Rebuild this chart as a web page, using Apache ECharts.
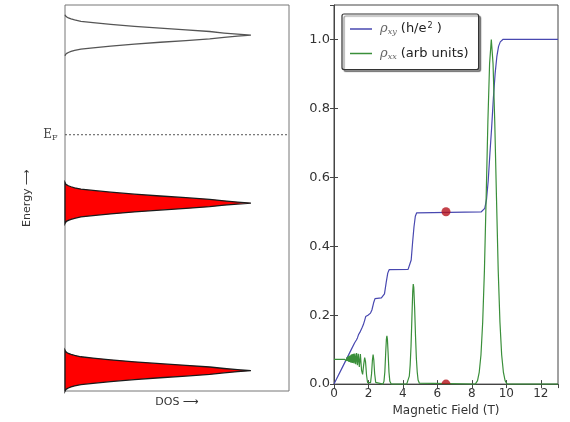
<!DOCTYPE html>
<html>
<head>
<meta charset="utf-8">
<script src="https://cdn.jsdelivr.net/npm/echarts@6/dist/echarts.min.js"></script>
<style>html,body{margin:0;padding:0;background:#fff;}#c{width:570px;height:422px;}</style>
</head>
<body>
<div id="c"></div>
<script>
// ---- Left panel: density of states (Landau levels) ----
const peakCentres = [0.121, 1.12, 2.12];          // energy of each Landau level
const peakFilled  = [1, 1, 0];                    // 1 = filled (below E_F)
const profileDE   = [0, 0.006, 0.013, 0.022, 0.032, 0.042, 0.053, 0.065, 0.075, 0.083, 0.091, 0.097, 0.103, 0.108, 0.114, 0.122]; // energy offset from level
const profileDOS  = [0.83, 0.77, 0.71, 0.646, 0.54, 0.425, 0.31, 0.204, 0.125, 0.071, 0.043, 0.027, 0.015, 0.008, 0.003, 0];
const fermiLevel  = 1.527;

// ---- Right panel: Hall and longitudinal resistivity ----
const rhoXY = [[0,0],[0.5,0.05],[1.0,0.1],[1.2,0.12],[1.3,0.128],[1.36,0.134],[1.42,0.143],[1.5,0.15],[1.56,0.155],[1.62,0.163],[1.7,0.172],[1.78,0.185],[1.84,0.196],[1.9,0.2],[1.97,0.2],[2.03,0.203],[2.12,0.206],[2.2,0.215],[2.3,0.236],[2.38,0.248],[2.45,0.25],[2.75,0.25],[2.84,0.252],[2.93,0.262],[3.03,0.295],[3.12,0.322],[3.2,0.332],[3.3,0.333],[4.3,0.333],[4.4,0.338],[4.48,0.36],[4.56,0.41],[4.64,0.455],[4.72,0.487],[4.8,0.497],[4.9,0.5],[8.55,0.5],[8.65,0.503],[8.75,0.51],[8.85,0.535],[8.95,0.59],[9.05,0.67],[9.15,0.745],[9.25,0.83],[9.35,0.9],[9.45,0.95],[9.55,0.98],[9.65,0.993],[9.8,1.0],[13,1.0]];
const rhoXX = [[0,0.072],[0.6,0.072],[0.63,0.075],[0.66,0.069],[0.69,0.076],[0.72,0.068],[0.75,0.078],[0.78,0.067],[0.81,0.08],[0.84,0.065],[0.87,0.082],[0.9,0.064],[0.93,0.083],[0.96,0.063],[0.99,0.085],[1.02,0.062],[1.05,0.087],[1.09,0.061],[1.13,0.088],[1.17,0.06],[1.21,0.089],[1.26,0.058],[1.31,0.09],[1.36,0.055],[1.41,0.088],[1.47,0.05],[1.53,0.087],[1.6,0.04],[1.66,0.028],[1.72,0.055],[1.78,0.077],[1.83,0.065],[1.89,0.025],[1.95,0.004],[2.02,0],[2.12,0.004],[2.18,0.03],[2.23,0.07],[2.27,0.086],[2.31,0.07],[2.36,0.03],[2.42,0.005],[2.5,0],[2.84,0],[2.9,0.008],[2.95,0.035],[3.0,0.09],[3.04,0.13],[3.07,0.14],[3.1,0.13],[3.14,0.09],[3.19,0.035],[3.24,0.008],[3.32,0],[4.22,0],[4.3,0.005],[4.37,0.023],[4.42,0.055],[4.47,0.11],[4.52,0.19],[4.57,0.27],[4.6,0.29],[4.63,0.28],[4.68,0.22],[4.73,0.14],[4.78,0.075],[4.83,0.035],[4.88,0.012],[4.95,0.003],[5.05,0],[8.2,0],[8.33,0.01],[8.43,0.035],[8.53,0.085],[8.63,0.18],[8.73,0.33],[8.83,0.54],[8.93,0.76],[9.03,0.93],[9.13,1.0],[9.23,0.93],[9.33,0.76],[9.43,0.54],[9.53,0.33],[9.63,0.18],[9.73,0.085],[9.83,0.035],[9.93,0.01],[10.05,0],[13,0]];
const markerPoints = [[6.5, 0.5], [6.5, 0.0]];
const xTicks = [0, 2, 4, 6, 8, 10, 12];
const yTicks = [0.0, 0.2, 0.4, 0.6, 0.8, 1.0];

const FONT = 'DejaVu Sans';
const chart = echarts.init(document.getElementById('c'), null, {renderer: 'canvas'});

const peakData = peakCentres.map((c, i) => [0, c, peakFilled[i]]);

function renderPeak(params, api) {
  const c = api.value(1);
  const filled = api.value(2) === 1;
  const pts = [];
  for (let i = profileDE.length - 1; i >= 1; i--) pts.push(api.coord([profileDOS[i], c - profileDE[i]]));
  pts.push(api.coord([profileDOS[0], c]));
  for (let i = 1; i < profileDE.length; i++) pts.push(api.coord([profileDOS[i], c + profileDE[i]]));
  if (filled) {
    return {type: 'polygon', shape: {points: pts}, style: {fill: '#ff0000', stroke: '#1a1a1a', lineWidth: 1.3}};
  }
  return {type: 'polyline', shape: {points: pts}, style: {fill: null, stroke: '#555', lineWidth: 1.3}};
}

const mirrorTick = {show: true, inside: true, length: 4, lineStyle: {color: '#444'}};

chart.setOption({
  animation: false,
  backgroundColor: '#fff',
  textStyle: {fontFamily: FONT},
  grid: [
    {left: 65, top: 5, width: 224, height: 386, show: true, borderColor: '#777', borderWidth: 1, backgroundColor: '#fff'},
    {left: 334, top: 5, width: 224, height: 386, show: true, borderColor: '#444', borderWidth: 1, backgroundColor: '#fff'}
  ],
  legend: {
    data: ['rxy', 'rxx'],
    orient: 'vertical',
    left: 342, top: 14,
    padding: [8, 10, 9, 8],
    icon: 'rect',
    itemWidth: 22, itemHeight: 1.5, itemGap: 11,
    backgroundColor: '#fff',
    borderColor: '#333', borderWidth: 1.2, borderRadius: 2,
    shadowColor: 'rgba(0,0,0,0.45)', shadowOffsetX: 2, shadowOffsetY: 2, shadowBlur: 1,
    formatter: n => n === 'rxy' ? '{r|ρ}{s|xy} (h/e{p|2} )' : '{r|ρ}{s|xx} (arb units)',
    textStyle: {
      fontFamily: FONT, fontSize: 13, color: '#222', padding: [0, 0, 0, 3],
      rich: {
        r: {fontFamily: 'DejaVu Serif', fontStyle: 'italic', fontSize: 13, color: '#666'},
        s: {fontFamily: 'DejaVu Serif', fontStyle: 'italic', fontSize: 8, color: '#666', padding: [6, 0, 0, 0]},
        p: {fontSize: 8, padding: [0, 0, 6, 1]}
      }
    }
  },
  xAxis: [
    {gridIndex: 0, type: 'value', min: 0, max: 1, axisLine: {show: false}, axisTick: {show: false}, axisLabel: {show: false}, splitLine: {show: false},
     name: 'DOS ⟶', nameLocation: 'middle', nameGap: 6, nameTextStyle: {fontFamily: FONT, fontSize: 11, color: '#333', verticalAlign: 'top'}},
    {gridIndex: 1, type: 'value', min: 0, max: 13, interval: 2,
     axisLine: {show: true, lineStyle: {color: '#444'}}, axisTick: {show: true, inside: true, length: 4, lineStyle: {color: '#444'}},
     axisLabel: {show: true, fontFamily: FONT, fontSize: 12, color: '#333', margin: 4, showMaxLabel: false,
                 formatter: v => xTicks.indexOf(v) >= 0 ? String(v) : ''},
     splitLine: {show: false},
     name: 'Magnetic Field (T)', nameLocation: 'middle', nameGap: 15,
     nameTextStyle: {fontFamily: FONT, fontSize: 12, color: '#333', verticalAlign: 'top'}},
    {gridIndex: 1, type: 'value', position: 'top', min: 0, max: 13, interval: 2,
     axisLine: {show: false}, axisTick: mirrorTick, axisLabel: {show: false}, splitLine: {show: false}}
  ],
  yAxis: [
    {gridIndex: 0, type: 'value', min: 0, max: 2.3, axisLine: {show: false}, axisTick: {show: false}, axisLabel: {show: false}, splitLine: {show: false},
     name: 'Energy ⟶', nameLocation: 'middle', nameGap: 32, nameRotate: 90, nameTextStyle: {fontFamily: FONT, fontSize: 11, color: '#333'}},
    {gridIndex: 1, type: 'value', min: 0, max: 1.1, interval: 0.2,
     axisLine: {show: true, lineStyle: {color: '#444'}}, axisTick: {show: true, inside: true, length: 4, lineStyle: {color: '#444'}},
     axisLabel: {show: true, fontFamily: FONT, fontSize: 13, color: '#333', margin: 4, showMaxLabel: false,
                 formatter: v => yTicks.some(t => Math.abs(t - v) < 1e-6) ? v.toFixed(1) : ''},
     splitLine: {show: false}},
    {gridIndex: 1, type: 'value', position: 'right', min: 0, max: 1.1, interval: 0.2,
     axisLine: {show: false}, axisTick: mirrorTick, axisLabel: {show: false}, splitLine: {show: false}}
  ],
  series: [
    {type: 'custom', xAxisIndex: 0, yAxisIndex: 0, data: peakData, renderItem: renderPeak, encode: {x: 0, y: 1}, silent: true},
    {type: 'line', xAxisIndex: 0, yAxisIndex: 0, data: [[0, fermiLevel], [1, fermiLevel]],
     symbol: 'circle', symbolSize: 1, showSymbol: true, itemStyle: {color: 'rgba(0,0,0,0)'},
     lineStyle: {color: '#555', width: 1, type: [2, 2]},
     label: {show: true, position: 'left', distance: 7,
             formatter: p => p.dataIndex === 0 ? '{e|E}{f|F}' : '',
             rich: {e: {fontFamily: 'DejaVu Serif', fontSize: 12, color: '#444'},
                    f: {fontFamily: 'DejaVu Serif', fontSize: 8, color: '#444', padding: [6, 0, 0, 0]}}},
     silent: true},
    {name: 'rxy', type: 'line', xAxisIndex: 1, yAxisIndex: 1, data: rhoXY, symbol: 'none', lineStyle: {color: '#4848b0', width: 1.2}, itemStyle: {color: '#4848b0'}},
    {name: 'rxx', type: 'line', xAxisIndex: 1, yAxisIndex: 1, data: rhoXX, symbol: 'none', lineStyle: {color: '#3a8f3a', width: 1.2}, itemStyle: {color: '#3a8f3a'}},
    {type: 'scatter', xAxisIndex: 1, yAxisIndex: 1, data: markerPoints.map((p, i) => i === 0 ? {value: p} :
       {value: p, symbol: 'path://M0,10 A10,10 0 0 1 20,10 Z', symbolSize: [9, 4.5], symbolOffset: [0, -2.25]}),
     symbolSize: 9, itemStyle: {color: '#b5121b'}, silent: true, z: 5}
  ]
});
</script>
</body>
</html>
